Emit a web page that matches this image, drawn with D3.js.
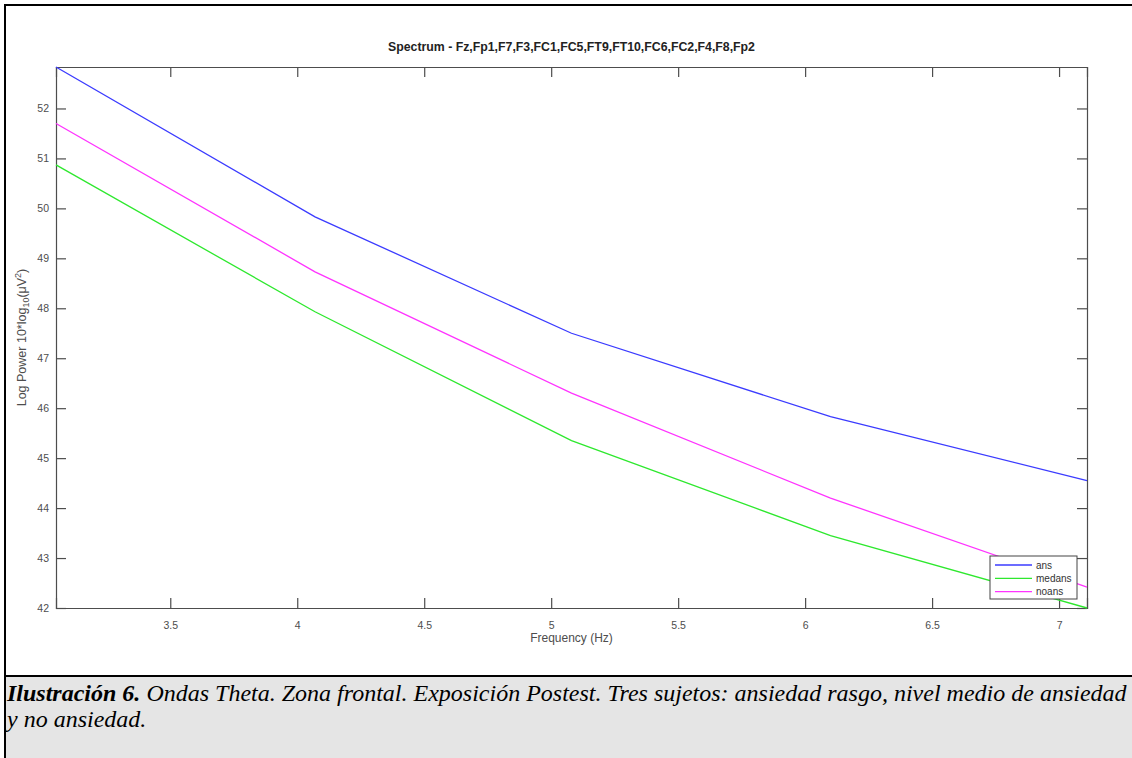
<!DOCTYPE html>
<meta charset="utf-8">
<html>
<head>
<title>Spectrum</title>
<style>
  body { margin: 0; background: #fff; }
  text { font-family: "Liberation Sans", Arial, sans-serif; }
  .axis text { fill: #4d4d4d; font-size: 10.5px; }
  .caption { font-family: "Liberation Serif", "Times New Roman", serif; font-size: 24px; font-style: italic; fill: #000; }
</style>
<script src="https://cdn.jsdelivr.net/npm/d3@7"></script>
</head>
<body>
<script>

    // frequencies (Hz) and power per group
    var freqs   = [3.05, 4.07, 5.08, 6.10, 7.11];
    var ans     = [52.83, 49.83, 47.50, 45.83, 44.55];
    var medans  = [50.87, 47.93, 45.35, 43.45, 42.00];
    var noans   = [51.70, 48.73, 46.30, 44.20, 42.42];
    var names   = ["ans", "medans", "noans"];
    var colors  = ["#3b3bff", "#2ee82e", "#ff33ff"];
    var xTicks  = [3.5, 4, 4.5, 5, 5.5, 6, 6.5, 7];
    var yTicks  = [42, 43, 44, 45, 46, 47, 48, 49, 50, 51, 52];

    var width = 1132, height = 758;
    var mLeft = 56, mRight = 1087, mTop = 67, mBottom = 608;

    var svg = d3.select("body").append("svg")
        .attr("width", width)
        .attr("height", height);

    // figure frame + caption strip
    svg.append("rect").attr("x", 5).attr("y", 677).attr("width", width).attr("height", 90)
        .attr("fill", "#e5e5e5");
    svg.append("line").attr("x1", 5).attr("x2", width).attr("y1", 5).attr("y2", 5)
        .attr("stroke", "#000").attr("stroke-width", 2);
    svg.append("line").attr("x1", 5).attr("x2", width).attr("y1", 676).attr("y2", 676)
        .attr("stroke", "#000").attr("stroke-width", 2);
    svg.append("line").attr("x1", 5).attr("x2", 5).attr("y1", 4).attr("y2", height)
        .attr("stroke", "#000").attr("stroke-width", 2);

    var x = d3.scaleLinear().domain([3.05, 7.11]).range([mLeft, mRight]);
    var y = d3.scaleLinear().domain([42, 52.83]).range([mBottom, mTop]);

    var tick = 10;
    var axCol = "#4d4d4d";

    // bottom axis with labels
    var gx = svg.append("g").attr("class", "axis")
        .attr("transform", "translate(0," + mBottom + ")")
        .call(d3.axisBottom(x).tickValues(xTicks).tickSize(-tick).tickPadding(14).tickFormat(d3.format("")));
    // top axis ticks
    var gxt = svg.append("g").attr("class", "axis")
        .attr("transform", "translate(0," + mTop + ")")
        .call(d3.axisTop(x).tickValues(xTicks).tickSize(-tick).tickFormat(""));
    // left axis with labels
    var gy = svg.append("g").attr("class", "axis")
        .attr("transform", "translate(" + mLeft + ",0)")
        .call(d3.axisLeft(y).tickValues(yTicks).tickSize(-tick).tickPadding(7).tickFormat(d3.format("")));
    // right axis ticks
    var gyr = svg.append("g").attr("class", "axis")
        .attr("transform", "translate(" + mRight + ",0)")
        .call(d3.axisRight(y).tickValues(yTicks).tickSize(-tick).tickFormat(""));

    [gx, gxt, gy, gyr].forEach(function(g) {
        g.selectAll("path.domain").attr("stroke", axCol).attr("stroke-width", 1.2);
        g.selectAll(".tick line").attr("stroke", axCol).attr("stroke-width", 1.2);
    });

    // lines
    var series = [ans, medans, noans];
    var line = d3.line()
        .x(function(d, i) { return x(freqs[i]); })
        .y(function(d) { return y(d); });

    svg.append("g").selectAll("path.series")
      .data(series)
      .enter().append("path")
      .attr("class", "series")
      .attr("d", line)
      .attr("fill", "none")
      .attr("stroke", function(d, i) { return colors[i]; })
      .attr("stroke-width", 1.3);

    // title and axis labels
    svg.append("text")
        .attr("x", (mLeft + mRight) / 2).attr("y", 51)
        .attr("text-anchor", "middle")
        .style("font-size", "12.3px").style("font-weight", "bold").attr("fill", "#222")
        .text("Spectrum - Fz,Fp1,F7,F3,FC1,FC5,FT9,FT10,FC6,FC2,F4,F8,Fp2");

    svg.append("text")
        .attr("x", (mLeft + mRight) / 2).attr("y", 642)
        .attr("text-anchor", "middle")
        .style("font-size", "12px").attr("fill", "#4d4d4d")
        .text("Frequency (Hz)");

    var yl = svg.append("text")
        .attr("transform", "translate(26," + ((mTop + mBottom) / 2) + ") rotate(-90)")
        .attr("text-anchor", "middle")
        .style("font-size", "12.5px").attr("fill", "#4d4d4d");
    yl.append("tspan").text("Log Power 10*log");
    yl.append("tspan").attr("dy", 3).style("font-size", "9px").text("10");
    yl.append("tspan").attr("dy", -3).text("(\u03bcV");
    yl.append("tspan").attr("dy", -5).style("font-size", "9px").text("2");
    yl.append("tspan").attr("dy", 5).text(")");

    // legend
    var lg = svg.append("g").attr("transform", "translate(990,556)");
    lg.append("rect").attr("width", 87).attr("height", 43)
        .attr("fill", "#fff").attr("stroke", "#444").attr("stroke-width", 1);
    names.forEach(function(n, i) {
        var yy = 9 + i * 13.3;
        lg.append("line").attr("x1", 5).attr("x2", 42).attr("y1", yy).attr("y2", yy)
            .attr("stroke", colors[i]).attr("stroke-width", 1.3);
        lg.append("text").attr("x", 46).attr("y", yy + 3.5)
            .style("font-size", "10px").attr("fill", "#333").text(n);
    });

    // caption
    var c1 = svg.append("text").attr("class", "caption").attr("x", 7).attr("y", 701);
    c1.append("tspan").style("font-weight", "bold").text("Ilustración 6.");
    c1.append("tspan").text(" Ondas Theta. Zona frontal. Exposición Postest. Tres sujetos: ansiedad rasgo, nivel medio de ansiedad");
    svg.append("text").attr("class", "caption").attr("x", 7).attr("y", 727)
        .text("y no ansiedad.");

</script>
</body>
</html>
